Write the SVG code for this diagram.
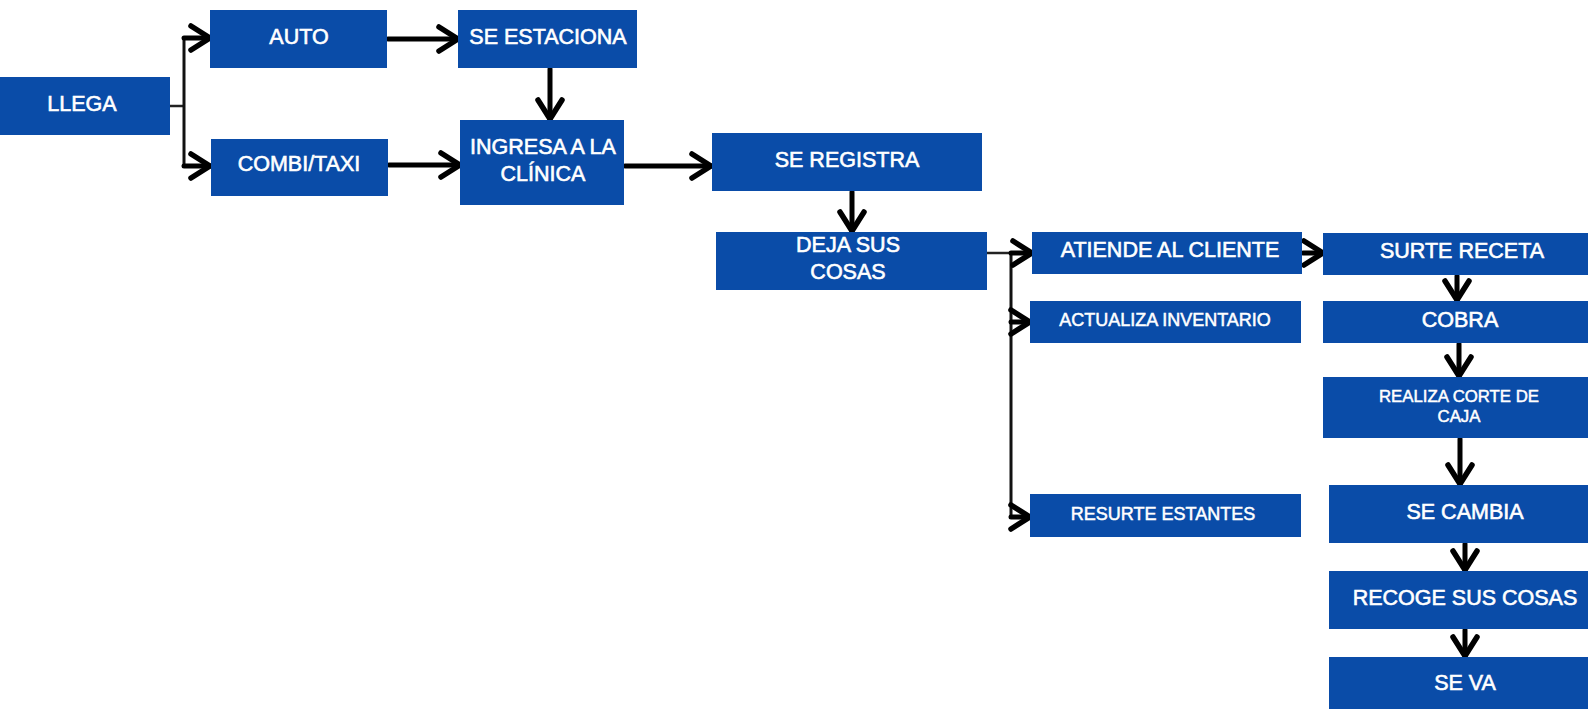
<svg xmlns="http://www.w3.org/2000/svg" width="1588" height="709" viewBox="0 0 1588 709">
<style>
.box{fill:#0a4ca8}
.t{fill:#ffffff;stroke:#ffffff;stroke-width:0.6;font-family:"Liberation Sans",Arial,sans-serif;font-size:21.5px;text-anchor:middle;dominant-baseline:central}
.s{font-size:18px;stroke-width:0.5}
.r{font-size:16.8px;stroke-width:0.5}
.c{fill:none;stroke:#000;stroke-width:5;stroke-linecap:round}
.thin{fill:none;stroke:#222;stroke-width:2.5}
.bus{fill:none;stroke:#111;stroke-width:3}
</style>
<defs>
<marker id="ah" markerUnits="userSpaceOnUse" viewBox="-26 -16 30 32" refX="0" refY="0" markerWidth="30" markerHeight="32" orient="auto" overflow="visible">
<path d="M-19,-12 L0,0 L-19,12" fill="none" stroke="#000" stroke-width="5.5" stroke-linecap="round" stroke-linejoin="round"/>
</marker>
</defs>
<rect width="1588" height="709" fill="#ffffff"/>
<g id="connectors">
<path class="thin" d="M170,106 H184"/>
<path class="bus" d="M184,38 V166"/>
<path class="c" d="M184,38 H210" marker-end="url(#ah)"/>
<path class="c" d="M184,166 H210" marker-end="url(#ah)"/>
<path class="c" d="M388,39 H458" marker-end="url(#ah)"/>
<path class="c" d="M389,165 H460" marker-end="url(#ah)"/>
<path class="c" d="M550,69 V119" marker-end="url(#ah)"/>
<path class="c" d="M625,166 H711" marker-end="url(#ah)"/>
<path class="c" d="M852,192 V231" marker-end="url(#ah)"/>
<path class="thin" d="M987,253 H1011"/>
<path class="bus" d="M1011,253 V517"/>
<path class="c" d="M1011,253 H1032" marker-end="url(#ah)"/>
<path class="c" d="M1011,322 H1030" marker-end="url(#ah)"/>
<path class="c" d="M1011,517 H1030" marker-end="url(#ah)"/>
<path class="c" d="M1303,253 H1323" marker-end="url(#ah)"/>
<path class="c" d="M1457,276 V300" marker-end="url(#ah)"/>
<path class="c" d="M1459,344 V376" marker-end="url(#ah)"/>
<path class="c" d="M1460,439 V484" marker-end="url(#ah)"/>
<path class="c" d="M1465,544 V570" marker-end="url(#ah)"/>
<path class="c" d="M1465,630 V656" marker-end="url(#ah)"/>
</g>
<g id="n-llega"><rect class="box" x="0" y="77" width="170" height="58"/><text class="t" x="82" y="104">LLEGA</text></g>
<g id="n-auto"><rect class="box" x="210" y="10" width="177" height="58"/><text class="t" x="299" y="37">AUTO</text></g>
<g id="n-estaciona"><rect class="box" x="458" y="10" width="179" height="58"/><text class="t" x="548" y="37">SE ESTACIONA</text></g>
<g id="n-combi"><rect class="box" x="211" y="139" width="177" height="57"/><text class="t" x="299" y="164">COMBI/TAXI</text></g>
<g id="n-ingresa"><rect class="box" x="460" y="120" width="164" height="85"/><text class="t" x="543" y="147">INGRESA A LA</text><text class="t" x="543" y="174">CLÍNICA</text></g>
<g id="n-registra"><rect class="box" x="712" y="133" width="270" height="58"/><text class="t" x="847" y="160">SE REGISTRA</text></g>
<g id="n-deja"><rect class="box" x="716" y="232" width="271" height="58"/><text class="t" x="848" y="245">DEJA SUS</text><text class="t" x="848" y="272">COSAS</text></g>
<g id="n-atiende"><rect class="box" x="1032" y="232" width="270" height="42"/><text class="t" x="1170" y="250">ATIENDE AL CLIENTE</text></g>
<g id="n-actualiza"><rect class="box" x="1030" y="301" width="271" height="42"/><text class="t s" x="1165" y="320">ACTUALIZA INVENTARIO</text></g>
<g id="n-resurte"><rect class="box" x="1030" y="494" width="271" height="43"/><text class="t s" x="1163" y="514">RESURTE ESTANTES</text></g>
<g id="n-surte"><rect class="box" x="1323" y="233" width="265" height="42"/><text class="t" x="1462" y="251">SURTE RECETA</text></g>
<g id="n-cobra"><rect class="box" x="1323" y="301" width="265" height="42"/><text class="t" x="1460" y="320">COBRA</text></g>
<g id="n-corte"><rect class="box" x="1323" y="377" width="265" height="61"/><text class="t r" x="1459" y="396">REALIZA CORTE DE</text><text class="t r" x="1459" y="416">CAJA</text></g>
<g id="n-cambia"><rect class="box" x="1329" y="485" width="259" height="58"/><text class="t" x="1465" y="512">SE CAMBIA</text></g>
<g id="n-recoge"><rect class="box" x="1329" y="571" width="259" height="58"/><text class="t" x="1465" y="598">RECOGE SUS COSAS</text></g>
<g id="n-seva"><rect class="box" x="1329" y="657" width="259" height="52"/><text class="t" x="1465" y="683">SE VA</text></g>
</svg>
